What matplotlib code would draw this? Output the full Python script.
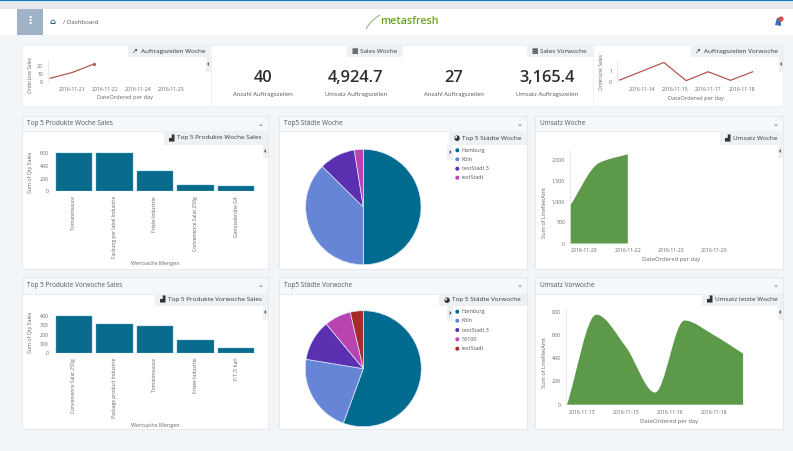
import matplotlib
matplotlib.use("Agg")
import matplotlib.pyplot as plt
from matplotlib.patches import Rectangle, Circle, PathPatch, Polygon
from matplotlib.path import Path

W, H = 793, 451
plt.rcParams['font.family'] = ['Open Sans', 'DejaVu Sans']

# ---------- data ----------
orders_week_days = [20, 21, 22]
orders_week = [4.6, 11.8, 22.5]
orders_week_ticks = [21, 22.5, 24, 25.5]
orders_week_ticklabels = ['2016-11-21', '2016-11-22', '2016-11-24', '2016-11-25']

orders_prev_days = [13, 15, 16, 17, 18, 19]
orders_prev = [0.15, 1.8, 0.1, 0.93, 0.13, 0.93]
orders_prev_ticks = [14, 15.5, 17, 18.5]
orders_prev_ticklabels = ['2016-11-14', '2016-11-15', '2016-11-17', '2016-11-18']

kpi_values = ['40', '4,924.7', '27', '3,165.4']
kpi_labels = ['Anzahl Auftragszeilen', 'Umsatz Auftragszeilen', 'Anzahl Auftragszeilen', 'Umsatz Auftragszeilen']

prod_week = ['Tomatensauce', 'Fackung per label Industrie', 'Frisée Industrie', 'Convenience Salat 250g', 'Gemüsebrühe G4']
prod_week_qty = [610, 600, 316, 105, 84]
prod_prev = ['Convenience Salat 250g', 'Package product Industrie', 'Tomatensauce', 'Frisée Industrie', 'P.T.O Karl']
prod_prev_qty = [407, 316, 295, 138, 51]

city_week = ['Hamburg', 'Köln', 'testStadt 3', 'testStadt']
city_week_share = [50.0, 37.4, 10.1, 2.5]
city_prev = ['Hamburg', 'Köln', 'testStadt 3', '53100', 'testStadt']
city_prev_share = [55.6, 22.0, 11.4, 7.4, 3.6]

rev_week_days = [20, 21, 22]
rev_week = [895, 1910, 2120]
rev_week_ticks = [20.5, 22, 23.5, 25]
rev_week_ticklabels = ['2016-11-20', '2016-11-22', '2016-11-23', '2016-11-25']

rev_prev_days = [13, 14, 15, 16, 17, 18, 19]
rev_prev = [0, 775, 500, 105, 725, 600, 440]
rev_prev_ticks = [13.5, 15, 16.5, 18]
rev_prev_ticklabels = ['2016-11-13', '2016-11-15', '2016-11-16', '2016-11-18']

# ---------- style ----------
BG = '#f3f6f9'
TEAL = '#0a6a8c'
PIE = ['#006b8e', '#6685d6', '#5a30b0', '#b944b0', '#a52a2a']
GREEN = '#5c9a4a'
LINE = '#b5564e'
TXT = '#444444'
SUB = '#666666'
TAB = '#eef1f4'
HEAD = '#f5f8fa'
BORDER = '#e3e8ec'

fig = plt.figure(figsize=(W / 100, H / 100), dpi=100, facecolor=BG)
bg = fig.add_axes([0, 0, 1, 1])
bg.set_xlim(0, W); bg.set_ylim(H, 0); bg.axis('off')


def rect(x0, y0, x1, y1, fc, ec='none', lw=0.6, z=1):
    bg.add_patch(Rectangle((x0, y0), x1 - x0, y1 - y0, fc=fc, ec=ec, lw=lw, zorder=z))


def label(x, y, s, size=4.8, color=TXT, ha='center', rot=0, **kw):
    bg.text(x, y, s, fontsize=size, color=color, ha=ha, va='center', rotation=rot, zorder=6, **kw)


def axpx(x0, y0, x1, y1):
    ax = fig.add_axes([x0 / W, 1 - y1 / H, (x1 - x0) / W, (y1 - y0) / H])
    ax.patch.set_alpha(0)
    for s in ('top', 'right', 'bottom'):
        ax.spines[s].set_visible(False)
    ax.spines['left'].set_color('#e6e6e6')
    ax.spines['left'].set_linewidth(0.6)
    ax.tick_params(length=0, labelsize=3.7, labelcolor=SUB, pad=3.5)
    return ax


def limits(ax, p0, d0, slope, x0, x1):
    """x limits such that value d0 falls on pixel p0, slope px per unit"""
    ax.set_xlim(d0 + (x0 - p0) / slope, d0 + (x1 - p0) / slope)


def monotone_area(ax, xs, ys, color):
    """Monotone-x cubic curve between the data points, filled down to zero."""
    n = len(xs)
    h = [xs[i + 1] - xs[i] for i in range(n - 1)]
    s = [(ys[i + 1] - ys[i]) / h[i] for i in range(n - 1)]
    t = [s[0]] + [0.0] * (n - 2) + [s[-1]]
    for i in range(1, n - 1):
        if s[i - 1] * s[i] > 0:
            t[i] = 2 * s[i - 1] * s[i] / (s[i - 1] + s[i])
    verts = [(xs[0], 0), (xs[0], ys[0])]
    codes = [Path.MOVETO, Path.LINETO]
    for i in range(n - 1):
        verts += [(xs[i] + h[i] / 3, ys[i] + t[i] * h[i] / 3),
                  (xs[i + 1] - h[i] / 3, ys[i + 1] - t[i + 1] * h[i] / 3),
                  (xs[i + 1], ys[i + 1])]
        codes += [Path.CURVE4] * 3
    verts += [(xs[-1], 0), (xs[0], 0)]
    codes += [Path.LINETO, Path.CLOSEPOLY]
    ax.add_patch(PathPatch(Path(verts, codes), fc=color, ec='none'))


def tab(x0, y0, x1, y1, text, icon, size=4.6):
    rect(x0, y0, x1, y1, TAB, z=4)
    label(x0 + 4.5, (y0 + y1) / 2, icon, size=5, ha='left', color='#333333', family=['DejaVu Sans'])
    label(x0 + 13, (y0 + y1) / 2, text, size=size, ha='left', color='#333333')


def side_caret(x0, y0, x1, y1, ch):
    rect(x0, y0, x1, y1, TAB, z=4)
    label((x0 + x1) / 2, (y0 + y1) / 2, ch, size=5, color='#222222', weight='bold')


def panel(x0, y0, x1, y1, yh, title):
    rect(x0, y0, x1, y1, 'white', BORDER, z=1)
    rect(x0, y0, x1, yh, HEAD, BORDER, z=2)
    label(x0 + 5, (y0 + yh) / 2, title, size=4.7, ha='left', color='#555555')
    label(x1 - 7.5, (y0 + yh) / 2 , '⌄', size=5, color='#555555', family=['DejaVu Sans'])


# ---------- header ----------
rect(0, 0, W, 1.2, '#0a7cc2', z=3)
rect(0, 1.2, W, 9, '#e4e8eb', z=2)
rect(0, 9, W, 35, 'white', z=2)
rect(17, 9, 43, 35, '#9fb2c6', z=3)
label(30, 21, '⋮', size=8, color='white', family=['DejaVu Sans'], weight='bold')
label(52, 21.5, '⌂', size=6, color='#1f5f86', family=['DejaVu Sans'], weight='bold')
label(63, 22, '/ Dashboard', size=4.4, ha='left', color='#555555')
label(380, 21.5, 'metasfresh', size=7.7, ha='left', color='#6ba31e', weight='semibold')
bg.add_patch(PathPatch(Path([(366, 29), (371, 20), (380, 15)], [Path.MOVETO, Path.CURVE3, Path.CURVE3]),
                       fc='none', ec='#8aa876', lw=0.7, zorder=5))
bg.add_patch(Polygon([(775, 25), (777, 18), (781, 17), (781, 26)], fc='#3f6fb5', ec='none', zorder=5))
bg.add_patch(Circle((781, 19), 2.6, fc='#d9534f', ec='none', zorder=6))

# ---------- top row ----------
rect(21.7, 45, 783, 106, 'white', '#edf0f3', z=1)
for xd in (211, 593):
    bg.plot([xd, xd], [45, 106], color='#edf0f3', lw=0.6, zorder=2)
tab(127.7, 45, 210, 57.3, 'Auftragszeilen Woche', '↗')
tab(346.7, 45, 402.7, 57.3, 'Sales Woche', '▦')
tab(527, 45, 593, 57.3, 'Sales Vorwoche', '▦')
tab(690.7, 45, 783, 57.3, 'Auftragszeilen Vorwoche', '↗')
side_caret(205.5, 57.3, 211, 72, '‹')
side_caret(778.5, 57.3, 783, 72, '‹')

for x, v, c in zip([263, 355.7, 453.5, 546.7], kpi_values, kpi_labels):
    label(x, 78, v, size=11.8, color='#2f2f2f', weight='semibold')
    label(x, 94.7, c, size=4.3, color='#555555')

# small line charts
a = axpx(48, 60, 205, 82)
limits(a, 72, 21, 22, 48, 205)
a.set_ylim(0, 27.5)
a.plot(orders_week_days, orders_week, color=LINE, lw=0.9)
a.plot(orders_week_days[-1:], orders_week[-1:], 'o', ms=1.3, color=LINE)
a.set_yticks([0, 10, 20], ['0', '10', '20'])
a.set_xticks(orders_week_ticks, orders_week_ticklabels)
label(30, 75, 'OrderLine Sales', size=3.5, rot=90, color=SUB)
label(125, 98, 'DateOrdered per day', size=4.1, color=SUB)

a = axpx(617, 60, 770, 81.7)
limits(a, 641.7, 14, 22.2, 617, 770)
a.set_ylim(0, 2.03)
a.plot(orders_prev_days, orders_prev, color=LINE, lw=0.9)
a.set_yticks([0, 1], ['0', '1'])
a.set_xticks(orders_prev_ticks, orders_prev_ticklabels)
label(601.7, 72, 'OrderLine Sales', size=3.5, rot=90, color=SUB)
label(695.7, 98.3, 'DateOrdered per day', size=4.1, color=SUB)

# ---------- panels ----------
panel(21.7, 116, 268, 268.7, 131.3, 'Top 5 Produkte Woche Sales')
panel(279, 116, 526.7, 268.7, 131.3, 'Top5 Städte Woche')
panel(535.3, 116, 783, 268.7, 131.3, 'Umsatz Woche')
panel(21.7, 276.7, 268, 428.7, 293.7, 'Top 5 Produkte Vorwoche Sales')
panel(279, 276.7, 526.7, 428.7, 293.7, 'Top5 Städte Vorwoche')
panel(535.3, 276.7, 783, 428.7, 293.7, 'Umsatz Vorwoche')

tab(164, 131.3, 268, 144.7, 'Top 5 Produkte Woche Sales', '▟')
tab(449, 131.3, 526.7, 145, 'Top 5 Städte Woche', '◕')
tab(720, 131.3, 783, 144.7, 'Umsatz Woche', '▟')
tab(155, 293.7, 268, 306, 'Top 5 Produkte Vorwoche Sales', '▟')
tab(439, 293.7, 526.7, 306, 'Top 5 Städte Vorwoche', '◕')
tab(701.7, 293.7, 783, 306, 'Umsatz letzte Woche', '▟')
side_caret(263, 144.7, 268, 158, '‹')
side_caret(778, 144.7, 783, 158, '‹')
side_caret(263, 306, 268, 320, '‹')
side_caret(778, 306, 783, 320, '‹')
side_caret(447, 145, 453, 160, '›')
side_caret(447, 306, 453, 321, '›')


def bars(y0px, ytop, slope, names, vals, ticks, xlab_y, ylab_y):
    a = axpx(53.6, ytop, 256.4, y0px)
    a.set_xlim(-0.5, 4.5)
    a.set_ylim(0, (y0px - ytop) / slope)
    a.bar(range(5), vals, width=0.895, color=TEAL, edgecolor='#46a9c8', linewidth=0.3)
    a.set_yticks(ticks, [str(t) for t in ticks])
    a.set_xticks(range(5), names, rotation=90, fontsize=3.6)
    a.spines['left'].set_visible(False)
    label(155, xlab_y, 'Wertsache Mengen', size=3.9, color=SUB)
    label(30.7, ylab_y, 'Sum of Qty Sales', size=3.8, rot=90, color=SUB)


bars(191.3, 148, 0.0633, prod_week, prod_week_qty, [0, 200, 400, 600], 264, 172)
bars(353, 310, 0.0918, prod_prev, prod_prev_qty, [0, 100, 200, 300, 400], 425.7, 332)


def pie(cx, cy, r, vals, names, leg_y):
    a = fig.add_axes([(cx - r) / W, 1 - (cy + r) / H, 2 * r / W, 2 * r / H])
    a.pie(vals, colors=PIE[:len(vals)], startangle=90, counterclock=False, radius=1,
          wedgeprops=dict(edgecolor='#dfe6f7', linewidth=0.5))
    a.set_xlim(-1, 1); a.set_ylim(-1, 1)
    for y, n, c in zip(leg_y, names, PIE):
        bg.add_patch(Circle((457.3, y), 2.0, fc=c, ec='none', zorder=6))
        label(462, y, n, size=3.9, ha='left', color='#555555')


pie(363.3, 207, 57.7, city_week_share, city_week, [150.3, 159.3, 168.7, 177.7])
pie(363.3, 368.7, 58, city_prev_share, city_prev, [311.7, 320.7, 330, 339.3, 348.7])

# ---------- area charts ----------
a = axpx(570, 150, 772, 243.5)
limits(a, 570, 20, 28.9, 570, 772)
a.set_ylim(0, 93.5 / 0.0421)
monotone_area(a, rev_week_days, rev_week, GREEN)
a.set_yticks([0, 500, 1000, 1500, 2000], ['0', '500', '1,000', '1,500', '2,000'])
a.set_xticks(rev_week_ticks, rev_week_ticklabels)
label(671, 259, 'DateOrdered per day', size=4.2, color=SUB)
label(544, 212, 'Sum of LineNetAmt', size=4.1, rot=90, color=SUB)

a = axpx(565.7, 309, 772, 404.7)
limits(a, 567, 13, 29.35, 565.7, 772)
a.set_ylim(0, 95.7 / 0.1161)
monotone_area(a, rev_prev_days, rev_prev, GREEN)
a.set_yticks([0, 200, 400, 600, 800], ['0', '200', '400', '600', '800'])
a.set_xticks(rev_prev_ticks, rev_prev_ticklabels)
label(669, 421, 'DateOrdered per day', size=4.2, color=SUB)
label(544, 362, 'Sum of LineNetAmt', size=4.1, rot=90, color=SUB)

fig.savefig('out.png', dpi=100, facecolor=BG)
